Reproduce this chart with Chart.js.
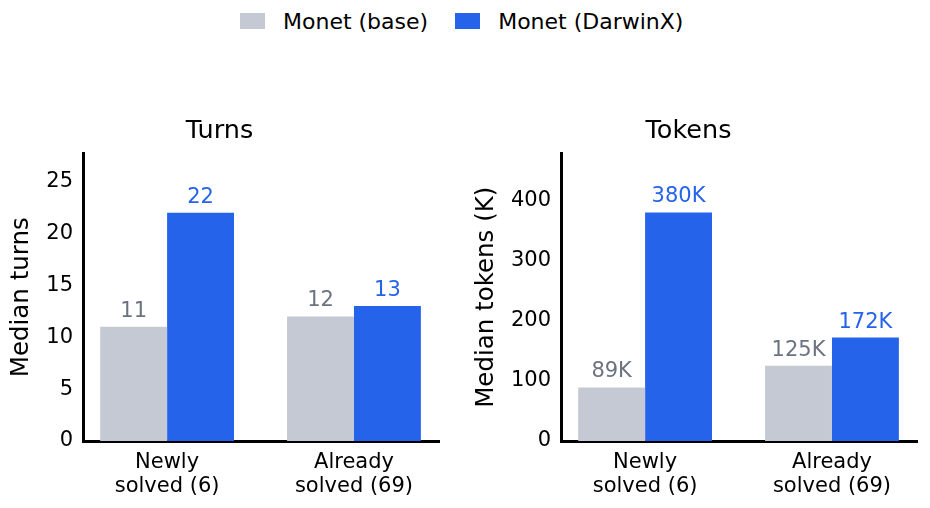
<!DOCTYPE html>
<html>
<head>
<meta charset="utf-8">
<script src="https://cdn.jsdelivr.net/npm/chart.js@4"></script>
<style>
  body { margin: 0; background: #fff; font-family: "DejaVu Sans", sans-serif; }
  #wrap { position: relative; width: 930px; height: 508px; overflow: hidden; }
  #legend { position: absolute; left: 240px; top: 0; height: 42px; display: flex; align-items: center; font-size: 22px; color: #000; }
  .item { display: flex; align-items: center; margin-right: 27px; }
  .box { width: 25px; height: 16px; margin-right: 18px; }
  canvas { position: absolute; top: 100px; }
</style>
</head>
<body>
<div id="wrap">
  <div id="legend"></div>
  <canvas id="turns-chart" width="460" height="408" style="left:0"></canvas>
  <canvas id="tokens-chart" width="470" height="408" style="left:460px"></canvas>
</div>
<script>
// groups on the x axis
const categories = [['Newly', 'solved (6)'], ['Already', 'solved (69)']];
const seriesNames = ['Monet (base)', 'Monet (DarwinX)'];

// median turns
const turnsBase = [11, 12];
const turnsDarwin = [22, 13];

// median tokens, in thousands
const tokensBase = [89, 125];
const tokensDarwin = [380, 172];

const baseColor = '#c4c9d4';
const darwinColor = '#2563eb';
const baseTextColor = '#6b7280';

// Build the legend shared by both panels
const legendElement = document.getElementById('legend');
[baseColor, darwinColor].forEach((color, i) => {
    const item = document.createElement('div');
    item.className = 'item';
    item.innerHTML = `<span class="box" style="background:${color}"></span><span>${seriesNames[i]}</span>`;
    legendElement.appendChild(item);
});

// Draws the value above each bar
const valueLabels = {
    id: 'valueLabels',
    afterDatasetsDraw(chart) {
        const ctx = chart.ctx;
        const suffix = chart.options.plugins.valueLabels.suffix;
        ctx.save();
        ctx.font = '21px "DejaVu Sans"';
        ctx.textAlign = 'center';
        ctx.textBaseline = 'alphabetic';
        chart.data.datasets.forEach((ds, i) => {
            ctx.fillStyle = i === 0 ? baseTextColor : darwinColor;
            chart.getDatasetMeta(i).data.forEach((bar, j) => {
                ctx.fillText(ds.data[j].y + suffix, bar.x, bar.y - 10);
            });
        });
        ctx.restore();
    }
};

const toPoints = values => values.map((v, i) => ({ x: i, y: v }));

const makeChart = (canvasId, cfg) => {
    const ctx = document.getElementById(canvasId).getContext('2d');
    return new Chart(ctx, {
        type: 'bar',
        data: {
            datasets: [{
                label: seriesNames[0],
                data: toPoints(cfg.base),
                backgroundColor: baseColor,
                borderWidth: 0,
            }, {
                label: seriesNames[1],
                data: toPoints(cfg.darwin),
                backgroundColor: darwinColor,
                borderWidth: 0,
            }],
        },
        options: {
            responsive: false,
            animation: false,
            categoryPercentage: 0.716,
            barPercentage: 1,
            layout: { padding: { left: 0, right: cfg.padRight, top: 0, bottom: 0 } },
            plugins: {
                legend: { display: false },
                tooltip: { enabled: false },
                title: {
                    display: true,
                    text: cfg.title,
                    color: '#000',
                    font: { family: 'DejaVu Sans', size: 25.5, weight: 'normal' },
                    padding: { top: 16.2, bottom: 6.7 },
                },
                valueLabels: { suffix: cfg.suffix },
            },
            scales: {
                x: {
                    type: 'linear',
                    min: -0.45,
                    max: 1.455,
                    offset: false,
                    grid: { display: false, drawTicks: false, offset: false },
                    border: { display: true, color: '#000', width: 3 },
                    afterBuildTicks: scale => { scale.ticks = categories.map((c, i) => ({ value: i })); },
                    afterFit: scale => { scale.height = 67; },
                    ticks: {
                        color: '#000',
                        padding: 9,
                        maxRotation: 0,
                        font: { family: 'DejaVu Sans', size: 21, lineHeight: 1.15 },
                        callback: value => categories[value],
                    },
                },
                y: {
                    min: 0,
                    max: cfg.yMax,
                    grid: { display: false, drawTicks: false },
                    border: { display: true, color: '#000', width: 3 },
                    afterFit: scale => { scale.width = cfg.axisWidth; },
                    title: {
                        display: true,
                        text: cfg.yTitle,
                        color: '#000',
                        font: { family: 'DejaVu Sans', size: 24.5 },
                        padding: { top: cfg.titlePad, bottom: 0 },
                    },
                    ticks: {
                        color: '#000',
                        padding: 10,
                        stepSize: cfg.step,
                        includeBounds: false,
                        font: { family: 'DejaVu Sans', size: 21 },
                    },
                },
            },
        },
        plugins: [valueLabels],
    });
};

makeChart('turns-chart', {
    title: 'Turns', yTitle: 'Median turns', base: turnsBase, darwin: turnsDarwin,
    yMax: 27.7, step: 5, suffix: '', axisWidth: 83, padRight: 21, titlePad: 7.3,
});

makeChart('tokens-chart', {
    title: 'Tokens', yTitle: 'Median tokens (K)', base: tokensBase, darwin: tokensDarwin,
    yMax: 478, step: 100, suffix: 'K', axisWidth: 101, padRight: 13, titlePad: 12.3,
});
</script>
</body>
</html>
